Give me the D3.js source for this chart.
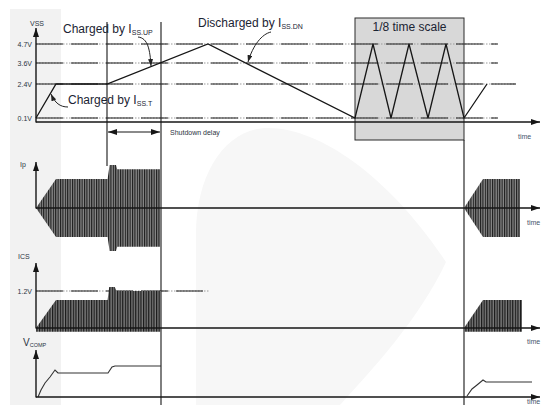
<!DOCTYPE html>
<html><head><meta charset="utf-8">
<script src="https://cdn.jsdelivr.net/npm/d3@7"></script>
<style>
body{margin:0;background:#fff}
svg{display:block;font-family:Arial,"Liberation Sans",sans-serif}
</style>
</head><body>
<svg id="chart" width="548" height="405"></svg>
<script>
// ---- time base (arbitrary ms) ----
const timeDomain = [0, 126];

// ---- VSS soft-start capacitor voltage ----
const vssLevels   = [0.1, 2.4, 3.6, 4.7];
const vssLevelEnd = [115.5, 120, 115.5, 115.5];
const vssTime  = [0, 5, 17.75, 43, 79.75, 84.25, 88.75, 93.25, 98, 102.5, 107, 112.75];
const vssValue = [0.1, 2.4, 2.4, 4.7, 0.1, 4.7, 0.1, 4.7, 0.1, 4.7, 0.1, 2.4];

// ---- Ip primary current burst envelopes (normalised amplitude) ----
const ipTime1 = [0, 5, 17.9, 18.4, 20, 20.3, 31.25];
const ipAmp1  = [0, 1, 1, 1.48, 1.48, 1.34, 1.34];
const ipTime2 = [107, 111.75, 121];
const ipAmp2  = [0, 1, 1];

// ---- ICS current-sense peak envelopes (V) ----
const icsLevel = 1.2;
const icsTime1 = [0, 5, 17.9, 18.3, 19.7, 20.1, 31.25];
const icsPeak1 = [0, 0.91, 0.91, 1.33, 1.33, 1.2, 1.2];
const icsTime2 = [107, 111.75, 121.5];
const icsPeak2 = [0, 0.91, 0.91];
const icsFloor = -0.12;

// ---- VCOMP (normalised) ----
const vcTime1  = [0.5, 1.25, 2.25, 3.5, 4.75, 5.5, 13.5, 18, 19, 19.75, 31.25];
const vcValue1 = [0, 0.14, 0.28, 0.4, 0.54, 0.48, 0.48, 0.48, 0.6, 0.62, 0.62];
const vcTime2  = [107.75, 109, 110.25, 111.75, 112.5, 124];
const vcValue2 = [0.02, 0.16, 0.24, 0.34, 0.3, 0.3];

// ---- event markers on the time axis ----
const tStart = 17.75, tShutdown = 31.25, tRestart = 107;

const svg = d3.select('#chart');
const ink = '#161616', labelInk = '#2b3442', timeInk = '#45556b';

const x = d3.scaleLinear().domain(timeDomain).range([36, 540]);
const yVss = d3.scaleLinear().domain([0, 0.1, 2.4, 3.6, 4.7]).range([122, 118, 84, 63, 44]);
const yIp  = d3.scaleLinear().domain([-1.5, 1.5]).range([251.5, 164.5]);
const yIcs = d3.scaleLinear().domain([0, icsLevel]).range([328, 291]);
const yVc  = d3.scaleLinear().domain([0, 1]).range([397, 347]);

const zip = (ts, vs) => ts.map((t, i) => ({t, v: vs[i]}));

// ---- defs: arrowheads and switching texture ----
const defs = svg.append('defs');
function marker(id, w, h, color) {
  defs.append('marker').attr('id', id)
    .attr('markerUnits', 'userSpaceOnUse')
    .attr('markerWidth', w).attr('markerHeight', h)
    .attr('refX', w).attr('refY', h / 2)
    .attr('orient', 'auto-start-reverse')
    .append('path').attr('d', `M0,0L${w},${h / 2}L0,${h}Z`).attr('fill', color);
}
marker('axisArrow', 9, 6, ink);
marker('smallArrow', 7, 5, '#222');

const pat = defs.append('pattern').attr('id', 'sw')
  .attr('patternUnits', 'userSpaceOnUse').attr('width', 2.4).attr('height', 10);
pat.append('rect').attr('width', 2.4).attr('height', 10).attr('fill', '#8a8a8a');
pat.append('rect').attr('width', 1.1).attr('height', 10).attr('fill', '#1a1a1a');

const pat2 = defs.append('pattern').attr('id', 'sw2')
  .attr('patternUnits', 'userSpaceOnUse').attr('width', 2.6).attr('height', 10);
pat2.append('rect').attr('width', 2.6).attr('height', 10).attr('fill', '#7a7a7a');
pat2.append('rect').attr('width', 1.2).attr('height', 10).attr('fill', '#181818');

// ---- faint background shapes ----
svg.append('rect').attr('x', 10).attr('y', 9).attr('width', 51).attr('height', 396).attr('fill', '#f2f2f2');
svg.append('path')
  .attr('d', 'M196,405 L196,235 C196,170 228,128 268,128 C322,128 392,180 446,262 C420,318 372,370 340,405 Z')
  .attr('fill', '#f7f7f7');

// ---- shaded compressed-time window ----
svg.append('rect')
  .attr('x', x(vssTime[4])).attr('y', 18)
  .attr('width', x(vssTime[10]) - x(vssTime[4])).attr('height', 122)
  .attr('fill', '#d8d8d8').attr('stroke', '#2a2a2a').attr('stroke-width', 1);

// ---- VSS level lines ----
const grid = svg.append('g');
vssLevels.forEach((lv, i) => {
  const y = yVss(lv);
  grid.append('line').attr('x1', x(0)).attr('x2', x(vssLevelEnd[i])).attr('y1', y).attr('y2', y)
    .attr('stroke', '#9a9a9a').attr('stroke-width', 1).attr('stroke-dasharray', '1.5,1.5');
  grid.append('line').attr('x1', x(0)).attr('x2', x(vssLevelEnd[i])).attr('y1', y).attr('y2', y)
    .attr('stroke', '#1e1e1e').attr('stroke-width', 1.1).attr('stroke-dasharray', '27,8');
});
svg.append('line').attr('x1', x(0)).attr('x2', x(43.5)).attr('y1', yIcs(icsLevel)).attr('y2', yIcs(icsLevel))
  .attr('stroke', '#9a9a9a').attr('stroke-width', 1).attr('stroke-dasharray', '1.5,1.5');
svg.append('line').attr('x1', x(0)).attr('x2', x(43.5)).attr('y1', yIcs(icsLevel)).attr('y2', yIcs(icsLevel))
  .attr('stroke', '#1e1e1e').attr('stroke-width', 1.1).attr('stroke-dasharray', '27,8');

// ---- event verticals ----
const vl = svg.append('g').attr('stroke', ink).attr('stroke-width', 1.1);
vl.append('line').attr('x1', x(tStart)).attr('x2', x(tStart)).attr('y1', 22).attr('y2', 166);
vl.append('line').attr('x1', x(tShutdown)).attr('x2', x(tShutdown)).attr('y1', 22).attr('y2', 405);
vl.append('line').attr('x1', x(tRestart)).attr('x2', x(tRestart)).attr('y1', 140).attr('y2', 405);

// ---- Ip bursts ----
const ipArea = d3.area().x(d => x(d.t)).y0(d => yIp(-d.v)).y1(d => yIp(d.v));
svg.append('path').datum(zip(ipTime1, ipAmp1)).attr('d', ipArea).attr('fill', 'url(#sw)');
svg.append('path').datum(zip(ipTime2, ipAmp2)).attr('d', ipArea).attr('fill', 'url(#sw)');

// ---- ICS bursts ----
const icsArea = d3.area().x(d => x(d.t)).y0(() => yIcs(icsFloor)).y1(d => yIcs(d.v));
svg.append('path').datum(zip(icsTime1, icsPeak1)).attr('d', icsArea).attr('fill', 'url(#sw2)');
svg.append('path').datum(zip(icsTime2, icsPeak2)).attr('d', icsArea).attr('fill', 'url(#sw2)');

// ---- VSS and VCOMP traces ----
svg.append('path').datum(zip(vssTime, vssValue))
  .attr('d', d3.line().x(d => x(d.t)).y(d => yVss(d.v)))
  .attr('fill', 'none').attr('stroke', ink).attr('stroke-width', 1.3);
const vcLine = d3.line().x(d => x(d.t)).y(d => yVc(d.v));
[zip(vcTime1, vcValue1), zip(vcTime2, vcValue2)].forEach(s =>
  svg.append('path').datum(s).attr('d', vcLine)
    .attr('fill', 'none').attr('stroke', '#333').attr('stroke-width', 1.1));

// ---- axes ----
const panels = [
  {y: yVss, base: 122, top: 28},
  {y: yIp,  base: 208, top: 162},
  {y: yIcs, base: 328, top: 263},
  {y: yVc,  base: 397, top: 350}
];
const ax = svg.append('g').attr('stroke', ink).attr('stroke-width', 1.4);
panels.forEach(p => {
  ax.append('line').attr('x1', x(0)).attr('x2', x(0)).attr('y1', p.base + 0.5).attr('y2', p.top)
    .attr('marker-end', 'url(#axisArrow)');
  ax.append('line').attr('x1', x(0)).attr('x2', x(timeDomain[1])).attr('y1', p.base).attr('y2', p.base)
    .attr('marker-end', 'url(#axisArrow)');
});

function tickAxis(scale, values) {
  const g = svg.append('g').attr('transform', `translate(${x(0) - 2},0)`)
    .call(d3.axisLeft(scale).tickValues(values).tickFormat(d => d + 'V').tickSize(0).tickPadding(2));
  g.select('.domain').remove();
  g.selectAll('text').attr('font-size', 7).attr('fill', labelInk).attr('font-family', 'Arial,"Liberation Sans",sans-serif');
}
tickAxis(yVss, vssLevels);
tickAxis(yIcs, [icsLevel]);

// ---- axis names ----
const small = (t, px, py, anchor) => svg.append('text').attr('x', px).attr('y', py)
  .attr('font-size', 7).attr('fill', labelInk).attr('text-anchor', anchor || 'start').text(t);
small('VSS', x(0) + 1, 26, 'middle');
small('Ip', 20, 167);
small('ICS', 18, 259);
const vc = svg.append('text').attr('x', 23).attr('y', 346).attr('fill', labelInk).attr('font-size', 10);
vc.append('tspan').text('V');
vc.append('tspan').attr('font-size', 5.5).attr('dy', 1).text('COMP');

[[139, 518], [225, 527], [344, 527], [404, 527]].forEach(([py, px]) =>
  svg.append('text').attr('x', px).attr('y', py).attr('font-size', 7).attr('fill', timeInk).text('time'));

// ---- annotations ----
function subLabel(px, py, main, sub) {
  const t = svg.append('text').attr('x', px).attr('y', py).attr('font-size', 12).attr('fill', '#1b2433');
  t.append('tspan').text(main);
  t.append('tspan').attr('font-size', 7).attr('dy', 2).text(sub);
}
subLabel(x(6.75), yVss(4.7) - 11, 'Charged by I', 'SS.UP');
subLabel(x(40.5), yVss(4.7) - 17, 'Discharged by I', 'SS.DN');
subLabel(x(8), yVss(2.4) + 20, 'Charged by I', 'SS.T');

svg.append('text').attr('x', (x(vssTime[4]) + x(vssTime[10])) / 2).attr('y', 31)
  .attr('text-anchor', 'middle').attr('font-size', 12).attr('fill', '#1b2433').text('1/8 time scale');

const callouts = [
  'M138,37 C148,38 150,50 151,66',
  'M271,32 C262,34 253,45 248,62',
  'M68,107 C60,107 55,103 51,94'
];
callouts.forEach(d => svg.append('path').attr('d', d).attr('fill', 'none')
  .attr('stroke', '#222').attr('stroke-width', 1).attr('marker-end', 'url(#smallArrow)'));

// shutdown delay span
svg.append('line').attr('x1', x(tStart) + 1).attr('x2', x(tShutdown) - 1).attr('y1', 132).attr('y2', 132)
  .attr('stroke', ink).attr('stroke-width', 1.2)
  .attr('marker-start', 'url(#axisArrow)').attr('marker-end', 'url(#axisArrow)');
svg.append('text').attr('x', x(tShutdown) + 9).attr('y', 135).attr('font-size', 7)
  .attr('fill', labelInk).text('Shutdown delay');
</script>
</body></html>
